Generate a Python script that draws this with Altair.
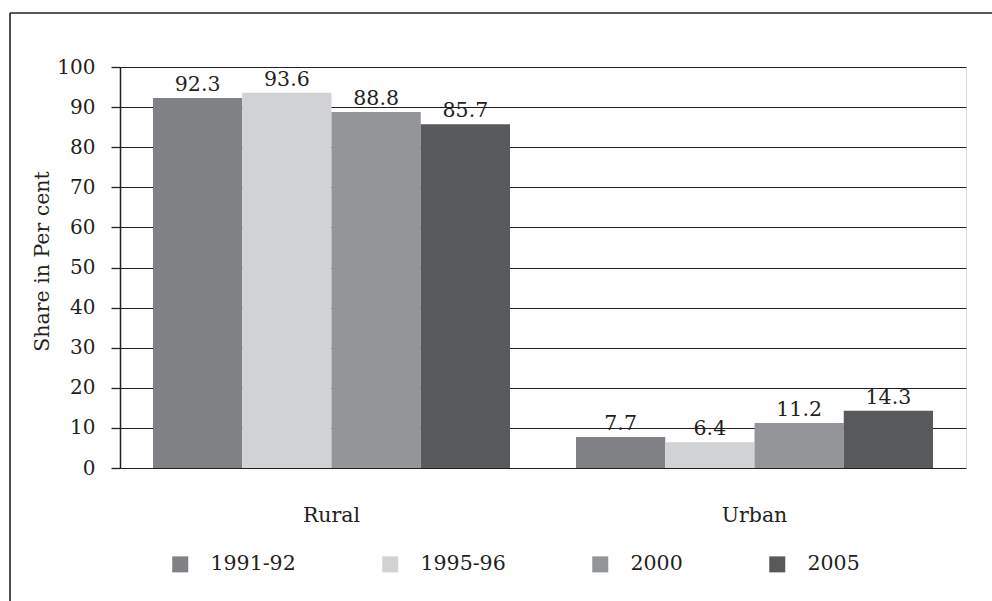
import altair as alt
import pandas as pd

areas = ["Rural", "Urban"]
years = ["1991-92", "1995-96", "2000", "2005"]
rural = [92.3, 93.6, 88.8, 85.7]
urban = [7.7, 6.4, 11.2, 14.3]
colors = ["#808184", "#d1d2d4", "#939598", "#58595b"]

rows = []
for a, vals in zip(areas, [rural, urban]):
    for yr, v in zip(years, vals):
        rows.append({"area": a, "year": yr, "share": v, "label": f"{v:.1f}"})
df = pd.DataFrame(rows)

FONT = "DejaVu Serif"
INK = "#231f20"
W, H = 846, 401

x = alt.X(
    "area:N", sort=areas, title=None,
    scale=alt.Scale(paddingInner=0.156, paddingOuter=0.078),
    axis=alt.Axis(labelAngle=0, ticks=False, domain=False, labelPadding=37,
                  labelFontSize=20.5, labelFont=FONT, labelColor=INK, grid=False),
)
xo = alt.XOffset("year:N", sort=years, scale=alt.Scale(paddingInner=0, paddingOuter=0))
y = alt.Y(
    "share:Q", title="Share in Per cent",
    scale=alt.Scale(domain=[0, 100], nice=False),
    axis=alt.Axis(values=list(range(0, 101, 10)), tickSize=9, tickColor=INK, tickWidth=1.3,
                  domainColor=INK, domainWidth=1.5, grid=True, gridColor=INK, gridWidth=1.2,
                  labelFont=FONT, labelFontSize=20, labelColor=INK, labelPadding=16,
                  titleFont=FONT, titleFontSize=20.5, titleFontWeight="normal", titleColor=INK,
                  titleAngle=270, titleX=-72, titleY=194, titleBaseline="alphabetic",
                  titleAlign="center"),
)
color = alt.Color(
    "year:N", sort=years, title=None,
    scale=alt.Scale(domain=years, range=colors),
    legend=alt.Legend(orient="none", legendX=50, legendY=487, direction="horizontal",
                      columns=4, columnPadding=84, symbolType="square", symbolSize=256,
                      symbolStrokeWidth=0, symbolOpacity=1, labelFont=FONT,
                      labelFontSize=20.5, labelColor=INK, labelOffset=20, padding=0),
)

bars = alt.Chart(df).mark_bar(opacity=1).encode(x=x, xOffset=xo, y=y, color=color)
labels = alt.Chart(df).mark_text(dy=-7, baseline="alphabetic", font=FONT, fontSize=20.5,
                                 color=INK).encode(x=x, xOffset=xo, y="share:Q", text="label:N")

frame_df = pd.DataFrame({"k": [0]})
left_edge = alt.Chart(frame_df).mark_rule(color=INK, strokeWidth=1.6).encode(
    x=alt.value(-110), y=alt.value(-54), y2=alt.value(560))
top_edge = alt.Chart(frame_df).mark_rule(color=INK, strokeWidth=1.6).encode(
    y=alt.value(-54), x=alt.value(-110), x2=alt.value(900))

chart = alt.layer(bars, labels, left_edge, top_edge).properties(
    width=W, height=H,
    autosize=alt.AutoSizeParams(type="none"),
    padding={"left": 120, "top": 67, "right": 26, "bottom": 133},
).configure_view(stroke=None).configure(background="white")

chart.save("out.html", embed_options={"renderer": "svg", "actions": False})
